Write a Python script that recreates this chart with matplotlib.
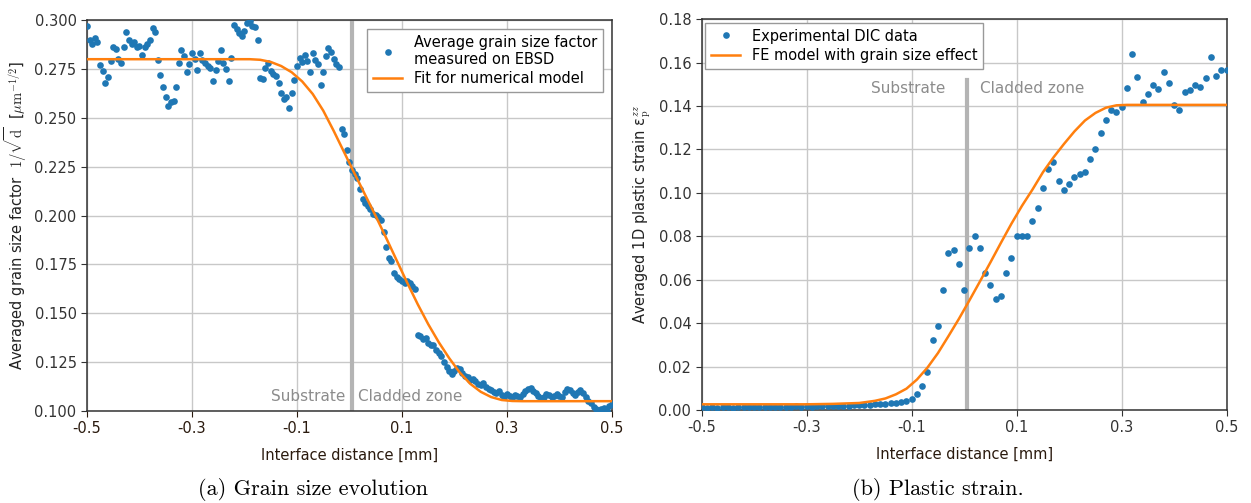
import numpy as np
import matplotlib
matplotlib.use("Agg")
import matplotlib.pyplot as plt

# ---- (a) grain size factor, one value every 0.005 mm from -0.5 to 0.5
grain_y = [
    0.297, 0.290, 0.288, 0.291, 0.289, 0.277, 0.274, 0.268, 0.271, 0.279,
    0.286, 0.285, 0.280, 0.278, 0.286, 0.294, 0.290, 0.288, 0.289, 0.286,
    0.287, 0.282, 0.286, 0.288, 0.290, 0.296, 0.294, 0.2795, 0.272, 0.266,
    0.2605, 0.256, 0.258, 0.2585, 0.266, 0.278, 0.2847, 0.2815, 0.2735, 0.2775,
    0.283, 0.280, 0.2745, 0.283, 0.2795, 0.278, 0.2765, 0.2755, 0.269, 0.2745,
    0.279, 0.2845, 0.278, 0.275, 0.269, 0.2805, 0.2975, 0.2955, 0.2935, 0.292,
    0.2945, 0.2985, 0.2995, 0.297, 0.2965, 0.290, 0.2705, 0.270, 0.2755, 0.278,
    0.274, 0.2725, 0.2715, 0.268, 0.2627, 0.2595, 0.2605, 0.255, 0.2627, 0.2693,
    0.2765, 0.2805, 0.2785, 0.282, 0.279, 0.2734, 0.283, 0.2795, 0.2775, 0.2668,
    0.2735, 0.2815, 0.2857, 0.2835, 0.280, 0.2775, 0.276, 0.2445, 0.2415, 0.2335,
    0.2275, 0.2235, 0.2215, 0.219, 0.2135, 0.2085, 0.2065, 0.205, 0.2035, 0.201,
    0.2005, 0.199, 0.1975, 0.1915, 0.184, 0.1785, 0.1765, 0.1705, 0.1685, 0.1675,
    0.1665, 0.1655, 0.1665, 0.1655, 0.164, 0.1625, 0.139, 0.1385, 0.137, 0.1375,
    0.135, 0.1335, 0.134, 0.131, 0.1295, 0.128, 0.125, 0.1225, 0.1205, 0.119,
    0.1205, 0.122, 0.1215, 0.1195, 0.118, 0.1175, 0.116, 0.1165, 0.1155, 0.114,
    0.1135, 0.1145, 0.1125, 0.111, 0.1105, 0.1095, 0.109, 0.110, 0.108, 0.107,
    0.1085, 0.1075, 0.1065, 0.108, 0.1075, 0.107, 0.1085, 0.110, 0.111, 0.1115,
    0.110, 0.109, 0.1075, 0.1065, 0.107, 0.1085, 0.108, 0.107, 0.1075, 0.1085,
    0.1075, 0.107, 0.1095, 0.111, 0.1105, 0.109, 0.108, 0.1095, 0.1105, 0.109,
    0.107, 0.105, 0.104, 0.102, 0.101, 0.1005, 0.101, 0.1015, 0.100, 0.1025,
    0.1035,
]
grain_x = np.linspace(-0.5, 0.5, len(grain_y))

fit_x = [-0.5, -0.19, -0.17, -0.15, -0.13, -0.11, -0.09, -0.07, -0.05, -0.03,
         -0.01, 0.01, 0.03, 0.05, 0.07, 0.09, 0.11, 0.13, 0.15, 0.17,
         0.19, 0.21, 0.23, 0.25, 0.27, 0.29, 0.31, 0.33, 0.5]
fit_y = [0.2800, 0.2800, 0.2797, 0.2786, 0.2765, 0.2733, 0.2686, 0.2622, 0.2537, 0.2433,
         0.2323, 0.2213, 0.2105, 0.1997, 0.1885, 0.1770, 0.1656, 0.1546, 0.1444, 0.1352,
         0.1270, 0.1197, 0.1139, 0.1098, 0.1071, 0.1056, 0.1051, 0.1050, 0.1050]

# ---- (b) plastic strain, one value every 0.01 mm from -0.5 to 0.5
dic_y = [
    0.0012, 0.0010, 0.0013, 0.0011, 0.0012, 0.0014, 0.0011, 0.0012, 0.0013, 0.0012,
    0.0013, 0.0012, 0.0014, 0.0013, 0.0012, 0.0015, 0.0013, 0.0014, 0.0016, 0.0015,
    0.0016, 0.0015, 0.0017, 0.0016, 0.0018, 0.0017, 0.0019, 0.0018, 0.0020, 0.0021,
    0.0023, 0.0023, 0.0023, 0.0026, 0.0026, 0.0026, 0.0034, 0.0034, 0.0038, 0.0043,
    0.0050, 0.0074, 0.0112, 0.0174, 0.0321, 0.0387, 0.0551, 0.0721, 0.0737, 0.0672,
    0.0551, 0.0746, 0.0800, 0.0746, 0.0629, 0.0575, 0.0511, 0.0525, 0.0630, 0.0700,
    0.0800, 0.0800, 0.0800, 0.0870, 0.0930, 0.1020, 0.1110, 0.1140, 0.1054, 0.1014,
    0.1039, 0.1073, 0.1088, 0.1097, 0.1156, 0.1200, 0.1274, 0.1337, 0.1380, 0.1371,
    0.1397, 0.1483, 0.1640, 0.1533, 0.1417, 0.1453, 0.1498, 0.1478, 0.1556, 0.1508,
    0.1406, 0.1381, 0.1464, 0.1473, 0.1495, 0.1487, 0.1531, 0.1625, 0.1536, 0.1567,
    0.1567,
]
dic_x = np.linspace(-0.5, 0.5, len(dic_y))

fe_x = [-0.5, -0.3, -0.25, -0.2, -0.17, -0.15, -0.13, -0.11, -0.09, -0.07, -0.05,
        -0.03, -0.01, 0.01, 0.03, 0.05, 0.07, 0.09, 0.11, 0.13, 0.15, 0.17, 0.19,
        0.21, 0.23, 0.25, 0.27, 0.29, 0.31, 0.5]
fe_y = [0.0026, 0.0026, 0.0028, 0.0032, 0.0042, 0.0053, 0.0072, 0.0098, 0.0140, 0.0195, 0.0262,
        0.0340, 0.0420, 0.0505, 0.0592, 0.0680, 0.0770, 0.0858, 0.0940, 0.1015, 0.1095, 0.1163,
        0.1225, 0.1283, 0.1333, 0.1368, 0.1392, 0.1403, 0.1405, 0.1405]

xticks = [-0.5, -0.3, -0.1, 0.1, 0.3, 0.5]
interface_x = 0.005

plt.rcParams['mathtext.fontset'] = 'cm'
blue, orange = '#1f77b4', '#ff7f0e'
zone_gray = '#b4b4b4'

fig = plt.figure(figsize=(12.51, 5.03), dpi=100)
ax1 = fig.add_axes([0.0695, 0.183, 0.4197, 0.777])
ax2 = fig.add_axes([0.5609, 0.185, 0.4197, 0.777])

for ax in (ax1, ax2):
    ax.grid(True, color='#c8c8c8', lw=1.0)
    ax.set_axisbelow(True)
    ax.set_xlim(-0.5, 0.5)
    ax.set_xticks(xticks)
    ax.set_xticklabels([str(t) for t in xticks])
    ax.tick_params(labelsize=10.5, colors='#333333', length=4)
    for s in ax.spines.values():
        s.set_color('#333333')
        s.set_linewidth(1.1)
    ax.set_xlabel('Interface distance [mm]', fontsize=10.5, color='#2a1a0e', labelpad=8)

# (a)
ax1.axvline(interface_x, color=zone_gray, lw=3, zorder=1.5)
ax1.plot(grain_x, grain_y, 'o', color=blue, ms=4.8, mew=0,
         label='Average grain size factor\nmeasured on EBSD', zorder=3)
ax1.plot(fit_x, fit_y, '-', color=orange, lw=1.8, label='Fit for numerical model', zorder=4)
ax1.set_ylim(0.1, 0.3)
ax1.set_yticks(np.arange(0.1, 0.3001, 0.025))
ax1.set_yticklabels(['%.3f' % v for v in np.arange(0.1, 0.3001, 0.025)])
ax1.tick_params(axis='x', colors='#2a1a0e')
ax1.set_ylabel(r'Averaged grain size factor  $1/\sqrt{\mathrm{d}}$  [$\mathrm{\mu m}^{-1/2}$]',
               fontsize=10.5, color='#222222')
ax1.text(interface_x - 0.012, 0.1072, 'Substrate', color='#8c8c8c', fontsize=11,
         ha='right', va='center')
ax1.text(interface_x + 0.012, 0.1072, 'Cladded zone', color='#8c8c8c', fontsize=11,
         ha='left', va='center')
ax1.legend(loc='upper right', fontsize=10.5, numpoints=1, fancybox=False,
           framealpha=1, edgecolor='#999999', handlelength=2.0,
           borderaxespad=0.6, labelspacing=0.3)

# (b)
ax2.plot([interface_x, interface_x], [0.0, 0.152], color=zone_gray, lw=3, zorder=1.5)
ax2.plot(dic_x, dic_y, 'o', color=blue, ms=4.8, mew=0, label='Experimental DIC data', zorder=3)
ax2.plot(fe_x, fe_y, '-', color=orange, lw=1.8, label='FE model with grain size effect', zorder=4)
ax2.set_ylim(0, 0.18)
ax2.set_yticks(np.arange(0, 0.1801, 0.02))
ax2.set_yticklabels(['%.2f' % v for v in np.arange(0, 0.1801, 0.02)])
ax2.set_ylabel('Averaged 1D plastic strain ε$_\\mathrm{p}^{zz}$',
               fontsize=10.5, color='#222222')
ax2.text(interface_x - 0.04, 0.148, 'Substrate', color='#8c8c8c', fontsize=11,
         ha='right', va='center')
ax2.text(interface_x + 0.025, 0.148, 'Cladded zone', color='#8c8c8c', fontsize=11,
         ha='left', va='center')
ax2.legend(loc='upper left', fontsize=10.5, numpoints=1, fancybox=False,
           framealpha=1, edgecolor='#999999', handlelength=2.0,
           borderaxespad=0.25, labelspacing=0.3)

fig.text(0.250, 0.026, '(a) Grain size evolution', fontfamily='cmr10', fontsize=16,
         ha='center', va='center')
fig.text(0.750, 0.026, '(b) Plastic strain.', fontfamily='cmr10', fontsize=16,
         ha='center', va='center')

fig.savefig('out.png', dpi=100)
